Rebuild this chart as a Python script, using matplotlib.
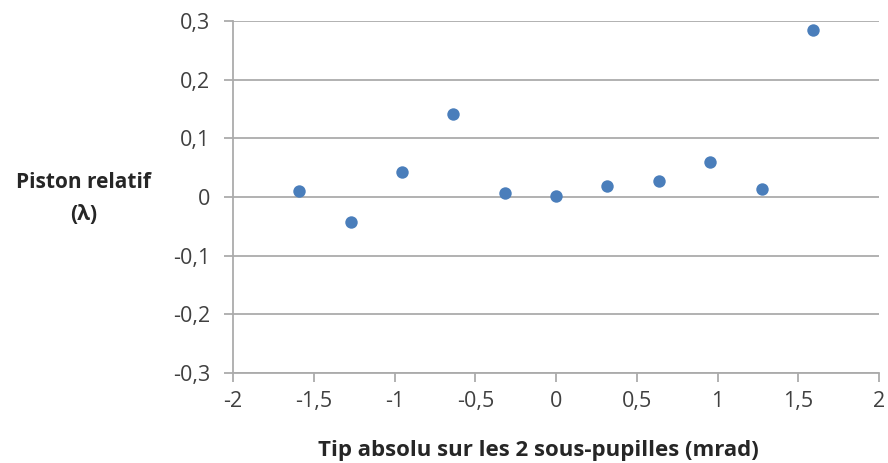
import numpy as np
import matplotlib
matplotlib.use("Agg")
import matplotlib.pyplot as plt
from matplotlib.ticker import FuncFormatter

# tip absolu (mrad) vs piston relatif (lambda)
tip = [-1.59, -1.272, -0.954, -0.636, -0.318, 0.0, 0.318, 0.636, 0.954, 1.272, 1.59]
piston = [0.010, -0.043, 0.042, 0.142, 0.007, 0.001, 0.018, 0.027, 0.059, 0.014, 0.285]

x_ticks = [-2, -1.5, -1, -0.5, 0, 0.5, 1, 1.5, 2]
y_ticks = [-0.3, -0.2, -0.1, 0, 0.1, 0.2, 0.3]

grid_col = "#ababab"
text_col = "#404040"
plt.rcParams["font.family"] = ["Open Sans", "DejaVu Sans"]

fig = plt.figure(figsize=(8.88, 4.63), dpi=100)
ax = fig.add_axes([0.2624, 0.194, 0.7276, 0.761])

ax.scatter(tip, piston, s=80, color="#4a7ebb", zorder=3, linewidths=0)

ax.set_xlim(-2, 2)
ax.set_ylim(-0.3, 0.3)
ax.set_xticks(x_ticks)
ax.set_yticks(y_ticks)


def fr(v, pos):
    s = f"{v:g}"
    return "0" if s in ("0", "-0") else s.replace(".", ",")


ax.xaxis.set_major_formatter(FuncFormatter(fr))
ax.yaxis.set_major_formatter(FuncFormatter(fr))

ax.grid(axis="y", color=grid_col, linewidth=1.3)
ax.set_axisbelow(True)
for side in ("top", "right"):
    ax.spines[side].set_visible(False)
for side in ("left", "bottom"):
    ax.spines[side].set_color(grid_col)
    ax.spines[side].set_linewidth(1.3)
ax.tick_params(axis="both", colors=grid_col, length=6.5, width=1.3,
               labelcolor=text_col, labelsize=15.5)
ax.tick_params(axis="y", pad=10)
ax.tick_params(axis="x", pad=6)

label_kw = dict(ha="center", va="baseline", fontweight="bold", color="#262626")
fig.text(0.606, 0.016, "Tip absolu sur les 2 sous-pupilles (mrad)",
         fontsize=16, **label_kw)
fig.text(0.094, 0.594, "Piston relatif", fontsize=15, **label_kw)
fig.text(0.094, 0.524, "(λ)", fontsize=15, **label_kw)

fig.savefig("out.png", dpi=100, facecolor="white")
